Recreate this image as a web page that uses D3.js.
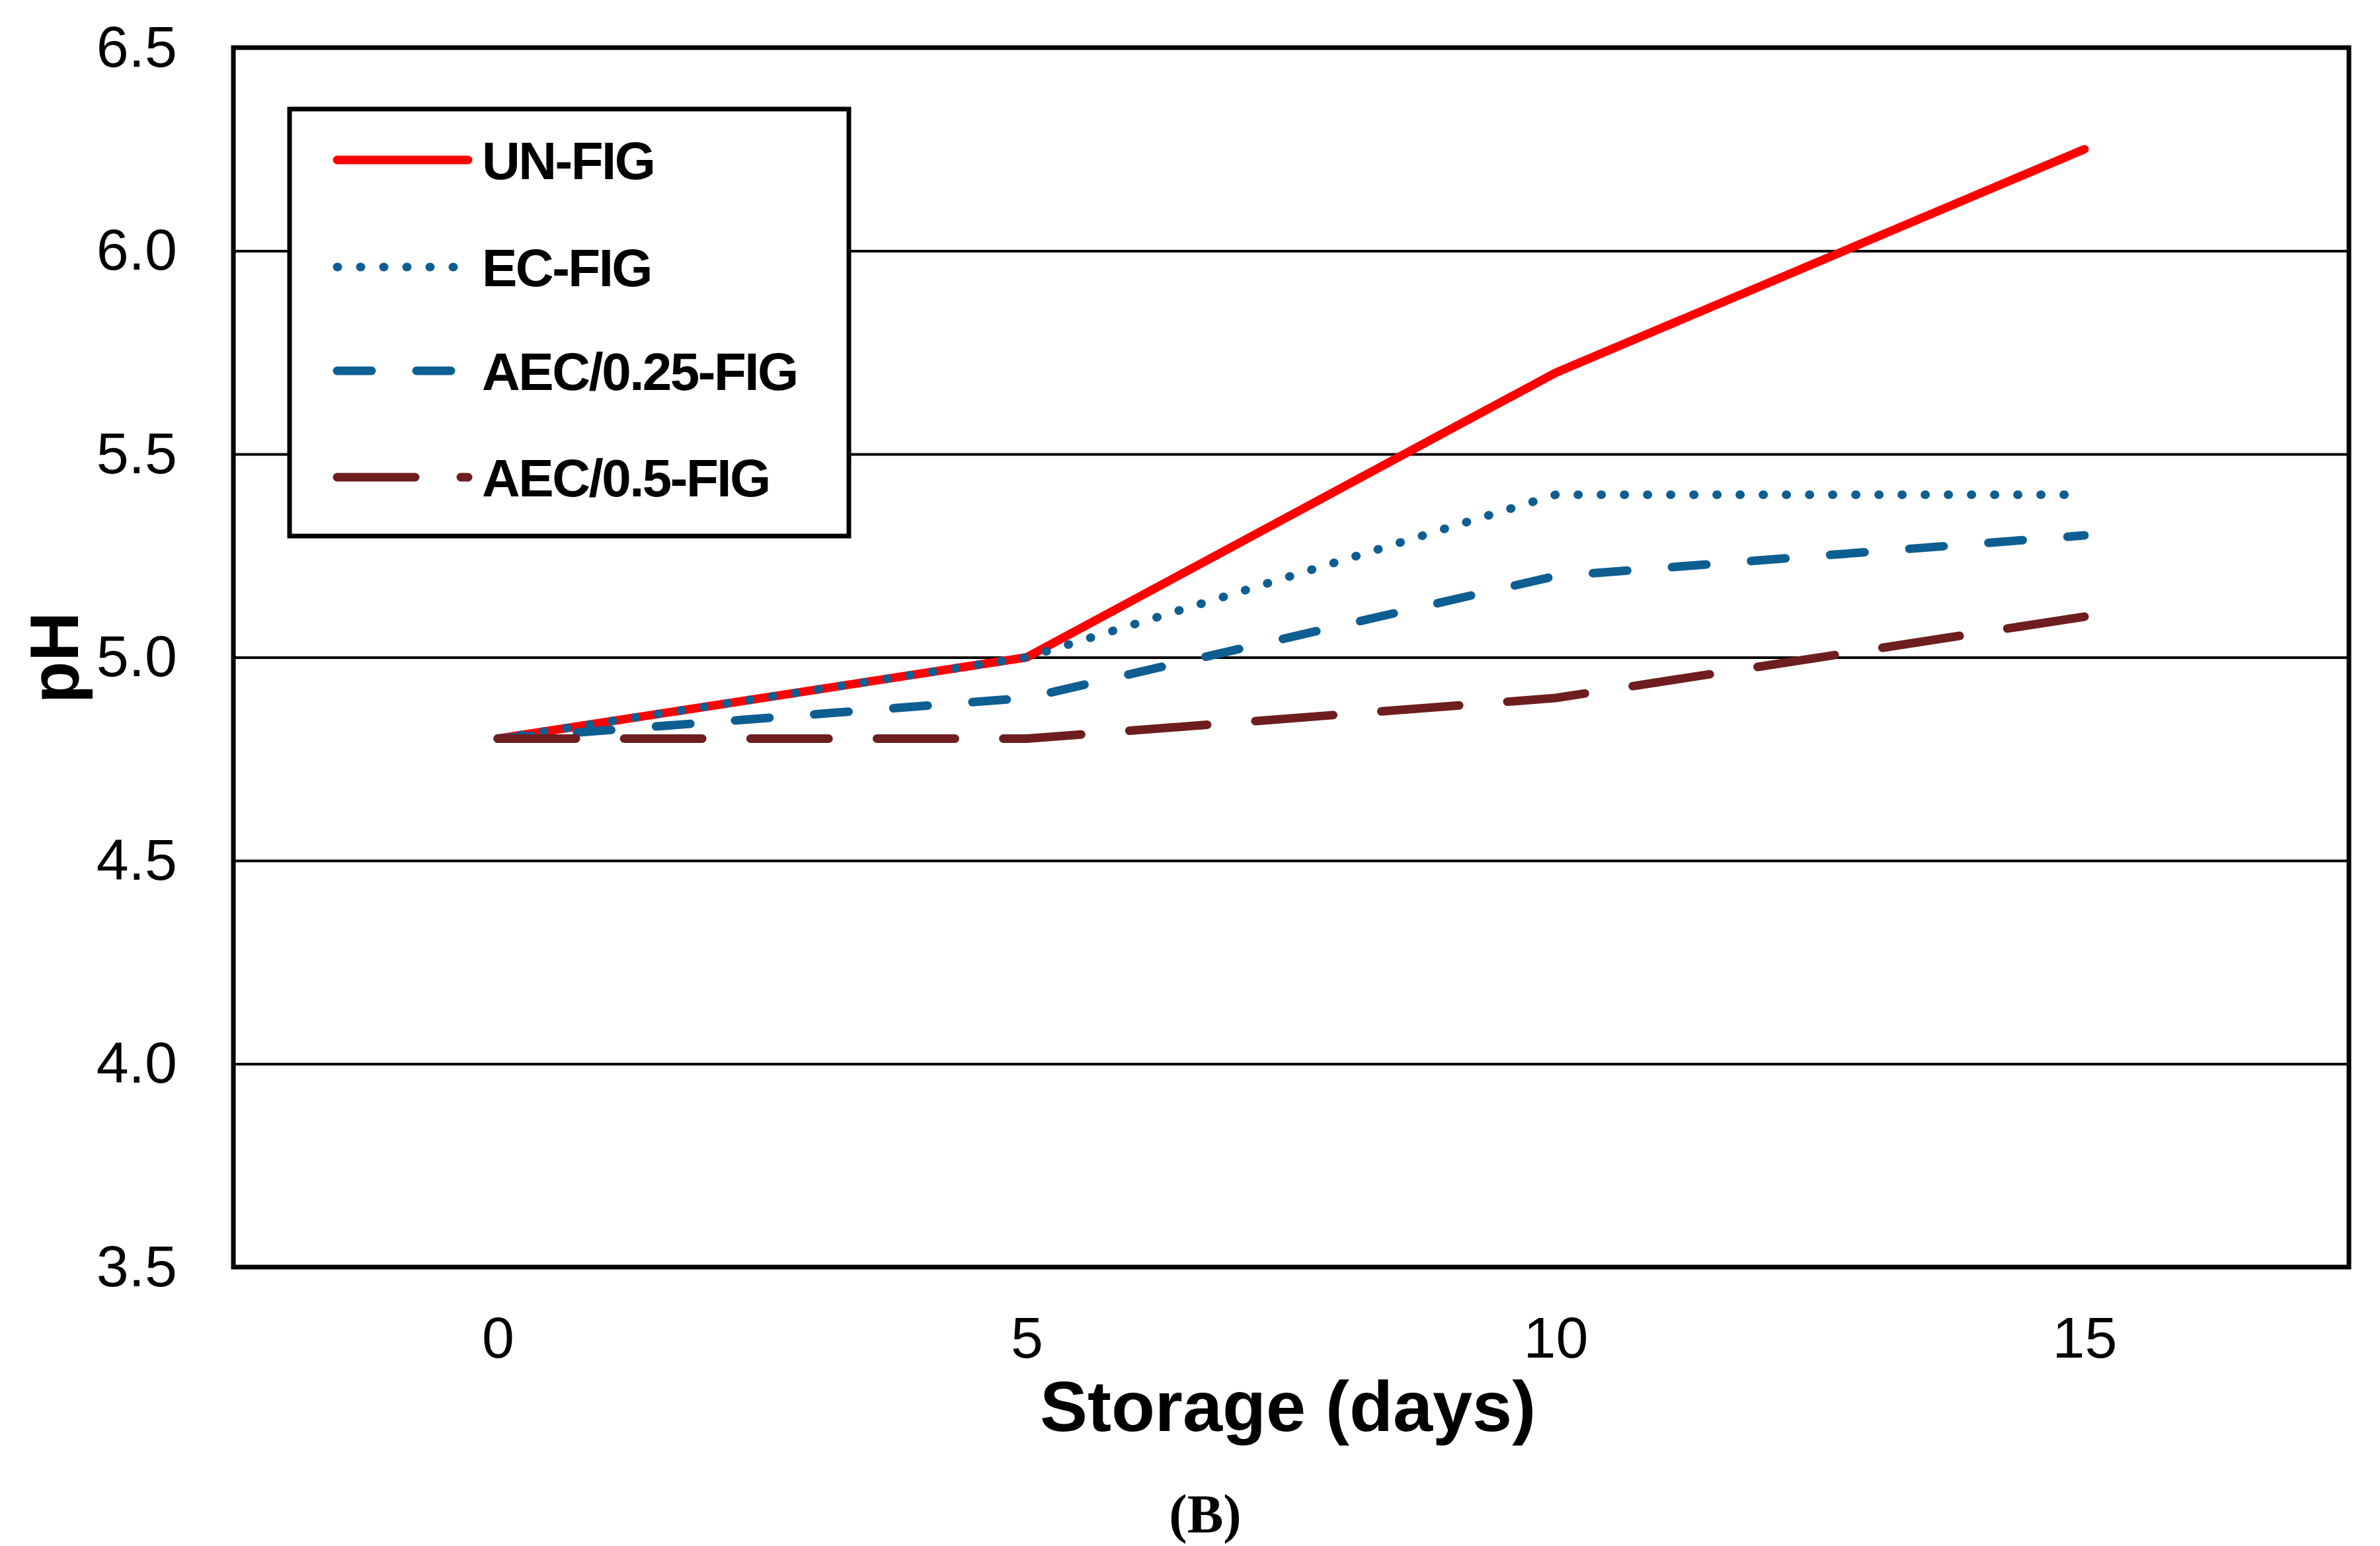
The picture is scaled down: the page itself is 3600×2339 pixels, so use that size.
<!DOCTYPE html>
<html>
<head>
<meta charset="utf-8">
<script src="https://cdn.jsdelivr.net/npm/d3@7"></script>
<style>
  body { margin: 0; background: #fff; }
  svg { display: block; }
  .grid line { stroke: #000; stroke-width: 4; }
  .grid path { display: none; }
  .axis path { display: none; }
  .axis text { font-family: "Liberation Sans", Arial, sans-serif; font-size: 88px; fill: #000; }
</style>
</head>
<body>
<svg id="phChart" width="3600" height="2339"></svg>
<script>
// data
const days = [0, 5, 10, 15];
const unFig = [4.8, 5.0, 5.7, 6.25];
const ecFig = [4.8, 5.0, 5.4, 5.4];
const aec025Fig = [4.8, 4.9, 5.2, 5.3];
const aec05Fig = [4.8, 4.8, 4.9, 5.1];
const seriesNames = ['UN-FIG', 'EC-FIG', 'AEC/0.25-FIG', 'AEC/0.5-FIG'];
const yTicks = [3.5, 4.0, 4.5, 5.0, 5.5, 6.0, 6.5];
const gridTicks = [4.0, 4.5, 5.0, 5.5, 6.0];

const styles = [
    { color: '#ff0000', dash: null },
    { color: '#0e5e92', dash: '1 34' },
    { color: '#0e5e92', dash: '52 68' },
    { color: '#6e1e1e', dash: '118 69', fitEnd: true }
];
const seriesValues = [unFig, ecFig, aec025Fig, aec05Fig];
const series = seriesNames.map((name, i) => ({
    name: name,
    style: styles[i],
    points: days.map((d, j) => ({ day: d, value: seriesValues[i][j] }))
}));

const svg = d3.select('svg#phChart');
const plotLeft = 353, plotRight = 3553, plotTop = 72, plotBottom = 1917;
const width = plotRight - plotLeft, height = plotBottom - plotTop;

const xScale = d3.scaleLinear().domain([-2.5, 17.5]).range([plotLeft, plotRight]);
const yScale = d3.scaleLinear().domain([3.5, 6.5]).range([plotBottom, plotTop]);

// horizontal grid lines
svg.append('g')
    .attr('class', 'grid')
    .attr('transform', `translate(${plotLeft}, 0)`)
    .call(d3.axisLeft(yScale)
        .tickValues(gridTicks)
        .tickSize(-width)
        .tickFormat(''));

// axes (labels only)
svg.append('g')
    .attr('class', 'axis')
    .attr('transform', `translate(${plotLeft}, 0)`)
    .call(d3.axisLeft(yScale)
        .tickValues(yTicks)
        .tickSize(0)
        .tickPadding(85)
        .tickFormat(d3.format('.1f')));

svg.append('g')
    .attr('class', 'axis')
    .attr('transform', `translate(0, ${plotBottom})`)
    .call(d3.axisBottom(xScale)
        .tickValues(days)
        .tickSize(0)
        .tickPadding(75)
        .tickFormat(d3.format('d')));

// lines
const line = d3.line()
    .x(d => xScale(d.day))
    .y(d => yScale(d.value));

svg.append('g')
    .selectAll('path')
    .data(series)
    .enter()
    .append('path')
    .attr('d', s => line(s.points))
    .attr('fill', 'none')
    .attr('stroke', s => s.style.color)
    .attr('stroke-width', 13)
    .attr('stroke-linecap', 'round')
    .attr('stroke-linejoin', 'round')
    .attr('stroke-dasharray', function (s) {
        if (!s.style.dash || !s.style.fitEnd) return s.style.dash;
        // stretch the gap a little so the line ends on a dash
        const [dash, gap] = s.style.dash.split(' ').map(Number);
        const len = this.getTotalLength();
        const n = Math.round((len - dash) / (dash + gap));
        return `${dash} ${(len - dash) / n - dash}`;
    });

// plot border
svg.append('rect')
    .attr('x', plotLeft)
    .attr('y', plotTop)
    .attr('width', width)
    .attr('height', height)
    .attr('fill', 'none')
    .attr('stroke', '#000')
    .attr('stroke-width', 7);

// legend
const legend = svg.append('g');
legend.append('rect')
    .attr('x', 438)
    .attr('y', 165)
    .attr('width', 846)
    .attr('height', 646)
    .attr('fill', '#fff')
    .attr('stroke', '#000')
    .attr('stroke-width', 7);

const legendRows = [242, 404, 561, 722];
const rows = legend.selectAll('g.row')
    .data(series)
    .enter()
    .append('g')
    .attr('class', 'row')
    .attr('transform', (s, i) => `translate(0, ${legendRows[i]})`);

rows.append('line')
    .attr('x1', 510)
    .attr('x2', 708)
    .attr('stroke', s => s.style.color)
    .attr('stroke-width', 13)
    .attr('stroke-linecap', 'round')
    .attr('stroke-dasharray', s => s.style.dash);

rows.append('text')
    .attr('x', 729)
    .attr('dy', '0.36em')
    .style('font-family', '"Liberation Sans", Arial, sans-serif')
    .style('font-weight', 'bold')
    .style('font-size', '80px')
    .style('letter-spacing', '-2.5px')
    .text(s => s.name);

// labels
svg.append('text')
    .attr('x', 1948)
    .attr('y', 2165)
    .attr('text-anchor', 'middle')
    .style('font-family', '"Liberation Sans", Arial, sans-serif')
    .style('font-weight', 'bold')
    .style('font-size', '108px')
    .text('Storage (days)');

svg.append('text')
    .attr('transform', 'translate(118, 995) rotate(-90)')
    .attr('text-anchor', 'middle')
    .style('font-family', '"Liberation Sans", Arial, sans-serif')
    .style('font-weight', 'bold')
    .style('font-size', '104px')
    .text('pH');

svg.append('text')
    .attr('x', 1823)
    .attr('y', 2318)
    .attr('text-anchor', 'middle')
    .style('font-family', '"Liberation Serif", "Times New Roman", serif')
    .style('font-weight', 'bold')
    .style('font-size', '82px')
    .text('(B)');
</script>
</body>
</html>
